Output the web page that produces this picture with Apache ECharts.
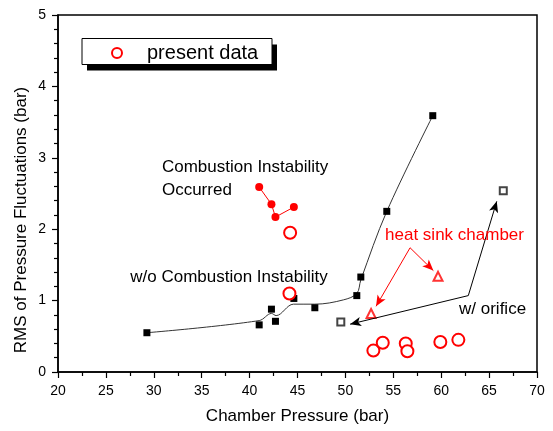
<!DOCTYPE html>
<html>
<head>
<meta charset="utf-8">
<script src="https://cdn.jsdelivr.net/npm/echarts@6/dist/echarts.min.js"></script>
<style>
  html, body { margin: 0; padding: 0; background: #fff; }
  #chart { width: 553px; height: 431px; }
</style>
</head>
<body>
<div id="chart"></div>
<script>
// 读图估计的数据 (chamber pressure [bar], RMS [bar])
const xTicks = [20, 25, 30, 35, 40, 45, 50, 55, 60, 65, 70];
const yTicks = [0, 1, 2, 3, 4, 5];

const blackSquares = [
  [29.28, 0.55], [41.0, 0.66], [42.28, 0.88], [42.70, 0.71], [44.62, 1.03],
  [46.81, 0.90], [51.19, 1.07], [51.61, 1.33], [54.32, 2.25], [59.12, 3.59]
];
// 拟合曲线（手描）
const fitCurve = [
  [29.28, 0.55], [41.0, 0.72], [42.28, 0.82], [42.77, 0.79], [44.58, 0.95],
  [46.81, 0.95], [49.79, 1.01], [51.19, 1.10], [51.61, 1.29], [54.32, 2.25], [59.12, 3.59]
];
const instability = [[41.0, 2.59], [42.28, 2.35], [42.70, 2.17], [44.62, 2.31]];
const presentData = [
  [44.23, 1.95], [44.16, 1.10], [52.92, 0.30], [53.90, 0.41],
  [56.30, 0.40], [56.47, 0.29], [59.91, 0.42], [61.79, 0.45]
];
const orifice = [[49.52, 0.70], [66.48, 2.54]];
const heatSink = [[52.68, 0.82], [59.67, 1.34]];

const blackArrows = [[[62.83, 1.07], [50.49, 0.67]], [[62.83, 1.07], [65.80, 2.39]]];
const redArrows = [[[56.75, 1.74], [53.20, 0.92]], [[56.75, 1.74], [59.18, 1.42]]];

const notes = [
  [30.85, 2.86, 'Combustion Instability', '#000'],
  [30.85, 2.55, 'Occurred', '#000'],
  [27.54, 1.33, 'w/o Combustion Instability', '#000'],
  [54.14, 1.92, 'heat sink chamber', '#f00'],
  [61.86, 0.88, 'w/ orifice', '#000']
];

const FONT = '"Liberation Sans", Arial, sans-serif';

const toMarkLine = (pairs) => pairs.map(p => [
  { coord: p[0], symbol: 'none' },
  { coord: p[1], symbol: 'arrow', symbolSize: [7, 11] }
]);

const option = {
  animation: false,
  textStyle: { fontFamily: FONT },
  grid: {
    left: 58, right: 16, top: 15, bottom: 59,
    show: true, borderColor: '#000', borderWidth: 1.5, backgroundColor: 'transparent'
  },
  legend: {
    data: ['present data'],
    left: 111, top: 42, padding: 0, z: 5,
    itemWidth: 10, itemHeight: 10,
    selectedMode: false,
    itemStyle: { borderWidth: 1 },
    textStyle: { fontSize: 20, color: '#000', fontFamily: FONT, padding: [0, 0, 0, 20], lineHeight: 22 }
  },
  xAxis: {
    type: 'value', min: xTicks[0], max: xTicks[xTicks.length - 1], interval: 5,
    name: 'Chamber Pressure (bar)', nameLocation: 'middle', nameGap: 36,
    nameTextStyle: { fontSize: 17, color: '#000', fontFamily: FONT },
    axisLine: { onZero: false, lineStyle: { color: '#000', width: 1.5 } },
    axisTick: { length: 6, lineStyle: { color: '#000', width: 1.2 } },
    minorTick: { show: true, splitNumber: 2, length: 4, lineStyle: { color: '#000', width: 1.2 } },
    axisLabel: { fontSize: 14, color: '#000', margin: 12 },
    splitLine: { show: false }
  },
  yAxis: {
    type: 'value', min: yTicks[0], max: yTicks[yTicks.length - 1], interval: 1,
    axisLine: { show: true, onZero: false, lineStyle: { color: '#000', width: 1.5 } },
    axisTick: { show: true, length: 6, lineStyle: { color: '#000', width: 1.2 } },
    minorTick: { show: true, splitNumber: 5, length: 4, lineStyle: { color: '#000', width: 1.2 } },
    axisLabel: { fontSize: 14, color: '#000', margin: 12 },
    splitLine: { show: false }
  },
  series: [
    {
      name: 'fit', type: 'line', data: fitCurve, smooth: 0.35, symbol: 'none',
      lineStyle: { color: '#333', width: 1 }, z: 2
    },
    {
      name: 'w/o', type: 'scatter', data: blackSquares, symbol: 'rect', symbolSize: 7,
      itemStyle: { color: '#000', opacity: 1 }, z: 3
    },
    {
      name: 'occurred', type: 'line', data: instability, symbol: 'circle', symbolSize: 8,
      showSymbol: true, itemStyle: { color: '#f00' }, lineStyle: { color: '#f00', width: 1 }, z: 3
    },
    {
      name: 'present data', type: 'scatter', data: presentData, symbol: 'emptyCircle', symbolSize: 12,
      itemStyle: { color: '#f00', borderColor: '#f00', borderWidth: 1, opacity: 1 }, z: 4
    },
    {
      name: 'orifice', type: 'scatter', data: orifice, symbol: 'emptyRect', symbolSize: 7,
      itemStyle: { color: '#444', borderColor: '#444', borderWidth: 1, opacity: 1 }, z: 3,
      markLine: {
        silent: true, symbol: ['none', 'arrow'], symbolSize: 10,
        lineStyle: { color: '#000', width: 1, type: 'solid', opacity: 1 },
        itemStyle: { color: '#000' },
        label: { show: false }, data: toMarkLine(blackArrows)
      }
    },
    {
      name: 'heat sink', type: 'scatter', data: heatSink, symbol: 'emptyTriangle', symbolSize: 9,
      itemStyle: { color: '#f33', borderColor: '#f33', borderWidth: 1, opacity: 1 }, z: 3,
      markLine: {
        silent: true, symbol: ['none', 'arrow'], symbolSize: 10,
        lineStyle: { color: '#f00', width: 1, type: 'solid', opacity: 1 },
        itemStyle: { color: '#f00' },
        label: { show: false }, data: toMarkLine(redArrows)
      }
    },
    {
      name: 'notes', type: 'scatter', symbolSize: 0, silent: true, z: 6,
      itemStyle: { opacity: 1 },
      data: notes.map(n => ({
        value: [n[0], n[1]],
        label: {
          show: true, position: 'right', distance: 0, formatter: n[2],
          fontSize: 17, color: n[3], fontFamily: FONT
        }
      }))
    }
  ],
  graphic: [
    {
      type: 'rect', z: 1, silent: true,
      shape: { x: 87, y: 44.5, width: 190, height: 26 },
      style: { fill: '#000' }
    },
    {
      type: 'rect', z: 2, silent: true,
      shape: { x: 82, y: 38.5, width: 190, height: 26 },
      style: { fill: '#fff', stroke: '#000', lineWidth: 1 }
    },
    {
      type: 'text', z: 5, silent: true, x: 21, y: 220, rotation: Math.PI / 2,
      style: {
        text: 'RMS of Pressure Fluctuations (bar)', fill: '#000',
        font: '17px ' + FONT, textAlign: 'center', textVerticalAlign: 'middle'
      }
    }
  ]
};

const chart = echarts.init(document.getElementById('chart'));
chart.setOption(option);
</script>
</body>
</html>
